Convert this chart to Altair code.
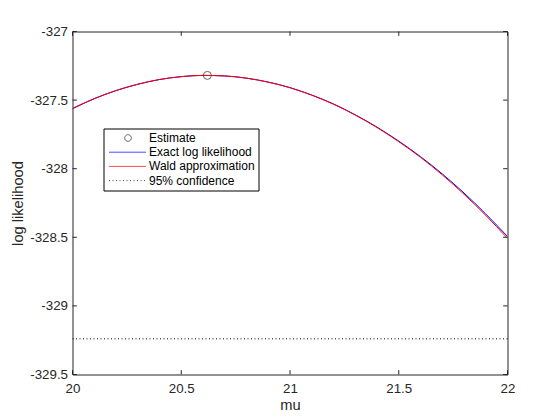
import altair as alt
import pandas as pd

# ---- data ----
mu = [20.0, 20.1, 20.2, 20.3, 20.4, 20.5, 20.6, 20.7, 20.8, 20.9, 21.0,
      21.1, 21.2, 21.3, 21.4, 21.5, 21.6, 21.7, 21.8, 21.9, 22.0]
exact_ll = [-327.563, -327.490, -327.431, -327.385, -327.350, -327.329, -327.320,
            -327.324, -327.340, -327.369, -327.409, -327.463, -327.528, -327.607,
            -327.697, -327.799, -327.912, -328.038, -328.177, -328.330, -328.494]
wald_ll = [-327.560, -327.489, -327.430, -327.384, -327.350, -327.329, -327.320,
           -327.324, -327.340, -327.369, -327.410, -327.464, -327.530, -327.609,
           -327.700, -327.803, -327.917, -328.045, -328.186, -328.340, -328.508]
est_mu = [20.62]
est_ll = [-327.32]
conf_ll = [-329.24]
x_ticks = [20, 20.5, 21, 21.5, 22]
y_ticks = [-329.5, -329, -328.5, -328, -327.5, -327]
series = ["Estimate", "Exact log likelihood", "Wald approximation", "95% confidence"]

AX = "#262626"
FONT = "Liberation Sans"
W, H = 435, 343
TK = 4.35

xs = alt.Scale(domain=[20, 22], nice=False, zero=False)
ys = alt.Scale(domain=[-329.5, -327], nice=False, zero=False)

exact_df = pd.DataFrame({"mu": mu, "ll": exact_ll})
wald_df = pd.DataFrame({"mu": mu, "ll": wald_ll})
est_df = pd.DataFrame({"mu": est_mu, "ll": est_ll})
conf_df = pd.DataFrame({"ll": conf_ll})
xt_df = pd.DataFrame({"mu": x_ticks})
yt_df = pd.DataFrame({"ll": y_ticks})
leg_df = pd.DataFrame({"series": series})

xaxis = alt.Axis(title="mu", values=x_ticks, labelExpr="toString(datum.value)",
                 labelPadding=7, labelFlush=False, titleX=W / 2, titleY=34.5,
                 titleBaseline="alphabetic", titleAlign="center")
yaxis = alt.Axis(title="log likelihood", values=y_ticks, labelExpr="toString(datum.value)",
                 labelPadding=5, labelFlush=False, labelBaseline="middle",
                 titleX=-50, titleY=H / 2, titleAngle=270,
                 titleBaseline="alphabetic", titleAlign="center")

exact_line = alt.Chart(exact_df).mark_line(color="#0000ff", strokeWidth=1, interpolate="monotone", clip=True).encode(
    x=alt.X("mu:Q", scale=xs, axis=xaxis),
    y=alt.Y("ll:Q", scale=ys, axis=yaxis),
)
wald_line = alt.Chart(wald_df).mark_line(color="#ff0000", strokeWidth=1, interpolate="monotone", clip=True).encode(
    x=alt.X("mu:Q", scale=xs),
    y=alt.Y("ll:Q", scale=ys),
)
est_point = alt.Chart(est_df).mark_point(color="#262626", filled=False, size=64, strokeWidth=1).encode(
    x=alt.X("mu:Q", scale=xs),
    y=alt.Y("ll:Q", scale=ys),
)
conf_rule = alt.Chart(conf_df).mark_rule(color="#000000", strokeWidth=1, strokeDash=[1, 2.5]).encode(
    y=alt.Y("ll:Q", scale=ys),
)

left_ticks = alt.Chart(yt_df).mark_rule(color=AX, strokeWidth=1).encode(
    y=alt.Y("ll:Q", scale=ys), x=alt.value(0), x2=alt.value(TK))
right_ticks = alt.Chart(yt_df).mark_rule(color=AX, strokeWidth=1).encode(
    y=alt.Y("ll:Q", scale=ys), x=alt.value(W - TK), x2=alt.value(W))
bottom_ticks = alt.Chart(xt_df).mark_rule(color=AX, strokeWidth=1).encode(
    x=alt.X("mu:Q", scale=xs), y=alt.value(H - TK), y2=alt.value(H))
top_ticks = alt.Chart(xt_df).mark_rule(color=AX, strokeWidth=1).encode(
    x=alt.X("mu:Q", scale=xs), y=alt.value(0), y2=alt.value(TK))

circle_path = "M2.92,0A0.83,0.83,0,1,0,4.58,0A0.83,0.83,0,1,0,2.92,0Z"
line_path = "M-1,0L8.25,0"
leg = alt.Legend(orient="none", legendX=31, legendY=97, title=None)
legend_layer = alt.Chart(leg_df).mark_point(filled=False, strokeWidth=1).encode(
    color=alt.Color("series:N", scale=alt.Scale(domain=series, range=[AX, "#0000ff", "#ff0000", "#000000"]), legend=leg),
    shape=alt.Shape("series:N", scale=alt.Scale(domain=series, range=[circle_path, line_path, line_path, line_path]), legend=leg),
    strokeDash=alt.StrokeDash("series:N", scale=alt.Scale(domain=series, range=[[1, 0], [1, 0], [1, 0], [1, 2.5]]), legend=leg),
).transform_filter("false")

chart = alt.layer(
    exact_line, wald_line, conf_rule, est_point,
    left_ticks, right_ticks, bottom_ticks, top_ticks, legend_layer
).properties(
    width=W, height=H,
    autosize=alt.AutoSizeParams(type="none"),
    padding={"left": 64.5, "top": 23.5, "right": 36, "bottom": 37},
    background="white",
).configure_view(
    stroke=AX, strokeWidth=1
).configure_axis(
    grid=False, domain=False, ticks=False, tickSize=0,
    labelFont=FONT, labelFontSize=13.33, labelColor=AX,
    titleFont=FONT, titleFontSize=14.67, titleColor=AX, titleFontWeight="normal",
).configure_legend(
    padding=3.5, strokeColor="#000000", fillColor="white", cornerRadius=0,
    labelFont=FONT, labelFontSize=12, labelColor="#000000", labelOffset=30,
    symbolSize=64, symbolStrokeWidth=1, rowPadding=2.2, labelLimit=300,
)

chart.save("out.html", embed_options={"renderer": "svg", "actions": False})
